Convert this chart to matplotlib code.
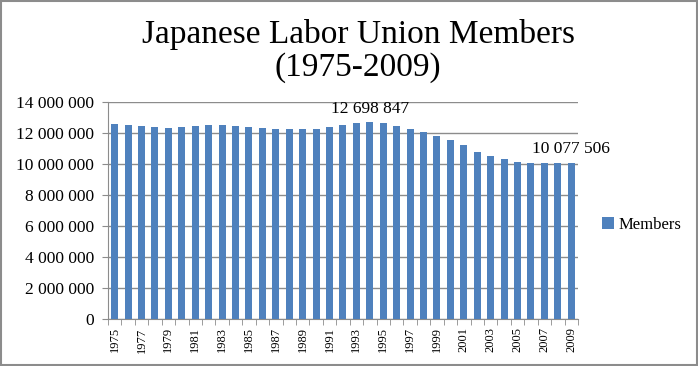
import matplotlib.pyplot as plt
import numpy as np
from matplotlib.patches import Rectangle

# data
years = list(range(1975, 2010))
members = [12590400, 12509000, 12437000, 12383000, 12309000, 12369000,
           12471000, 12526000, 12520000, 12464000, 12418000, 12343000,
           12272000, 12227000, 12227000, 12265000, 12397000, 12541000,
           12663000, 12698847, 12614000, 12451000, 12285000, 12093000,
           11825000, 11539000, 11212000, 10801000, 10531000, 10309000,
           10138000, 10041000, 10080000, 10065000, 10077506]
labelled = {1994: "12 698 847", 2009: "10 077 506"}

serif = ['Liberation Serif', 'DejaVu Serif']
bar_col = '#4F81BD'
grid_col = '#8C8C8C'

def fmt(v, pos=None):
    return '{:,}'.format(int(v)).replace(',', ' ')

fig = plt.figure(figsize=(6.98, 3.66), dpi=100)
ax = fig.add_axes([0.1547, 0.1284, 0.828 - 0.1547, 0.7213 - 0.1284])

x = np.arange(len(years))
ax.bar(x, members, width=0.52, color=bar_col, zorder=3, label='Members')

ax.set_xlim(-0.5, len(years) - 0.5)
ax.set_ylim(0, 14000000)
ax.set_yticks(np.arange(0, 14000001, 2000000))
ax.yaxis.set_major_formatter(plt.FuncFormatter(fmt))
ax.yaxis.grid(True, color=grid_col, linewidth=1, zorder=0)
ax.tick_params(axis='y', length=4, color=grid_col, labelsize=12.5, pad=6)
for t in ax.get_yticklabels():
    t.set_family(serif)

# x labels every other year, tick marks at category boundaries
ax.set_xticks(x[::2])
ax.set_xticklabels([str(y) for y in years[::2]], rotation=90, family=serif, fontsize=9)
ax.set_xticks(np.arange(-0.5, len(years), 1), minor=True)
ax.tick_params(axis='x', which='major', length=0, pad=6)
ax.tick_params(axis='x', which='minor', length=4, color=grid_col)

for s in ['top', 'right']:
    ax.spines[s].set_visible(False)
for s in ['left', 'bottom']:
    ax.spines[s].set_color(grid_col)

for yr, txt in labelled.items():
    i = years.index(yr)
    ax.annotate(txt, (i, members[i]), xytext=(0, 4), textcoords='offset points',
                ha='center', va='bottom', family=serif, fontsize=12.5, zorder=5)

fig.text(0.513, 0.905, 'Japanese Labor Union Members', ha='center', va='center',
         family=serif, fontsize=24)
fig.text(0.513, 0.815, '(1975-2009)', ha='center', va='center',
         family=serif, fontsize=24)

leg = ax.legend(loc='center left', bbox_to_anchor=(1.02, 0.435), frameon=False,
                prop={'family': serif, 'size': 12}, handlelength=0.7,
                handleheight=0.7, handletextpad=0.3)

fig.patches.append(Rectangle((0.002, 0.003), 0.996, 0.994, transform=fig.transFigure,
                             fill=False, edgecolor='#8C8C8C', linewidth=1.5))

fig.savefig('out.png', dpi=100)
